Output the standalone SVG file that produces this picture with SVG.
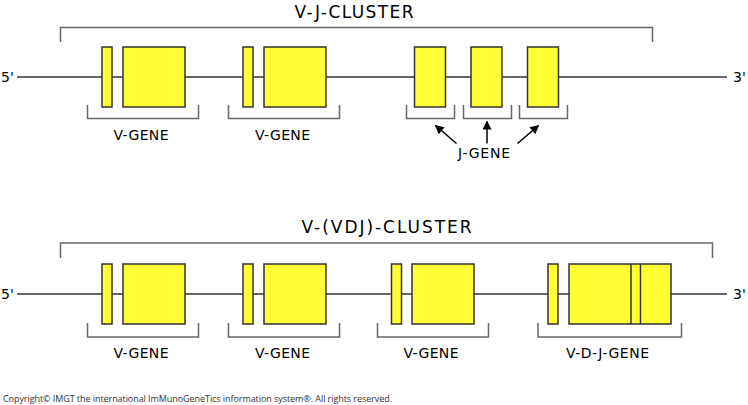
<svg xmlns="http://www.w3.org/2000/svg" width="748" height="405" viewBox="0 0 748 405">
<defs>
<style>
.ln{stroke:#666;stroke-width:2;fill:none}
.br{stroke:#666;stroke-width:1.5;fill:none}
.ex{fill:#ffff33;stroke:#333;stroke-width:1.5}
.t{font-family:"DejaVu Sans",Verdana,sans-serif;fill:#000}
.title{font-size:17px}
.lab{font-size:14px}
.end{font-size:14px}
.ar{stroke:#000;stroke-width:1.5;fill:none}
</style>
<marker id="ah" viewBox="0 0 10 10" refX="9" refY="5" markerWidth="10" markerHeight="9" markerUnits="userSpaceOnUse" orient="auto">
<path d="M0,0 L10,5 L0,10 Z" fill="#000"/>
</marker>
</defs>
<rect width="748" height="405" fill="#fff"/>

<g id="connectors">
<line class="ln" x1="17" y1="77" x2="727" y2="77"/>
<line class="ln" x1="17" y1="294" x2="727" y2="294"/>
<polyline class="br" points="60.5,42 60.5,27.5 652.5,27.5 652.5,42"/>
<polyline class="br" points="60.5,258 60.5,243 712.5,243 712.5,258"/>
<line class="ar" x1="456.5" y1="143.5" x2="435.5" y2="125.5" marker-end="url(#ah)"/>
<line class="ar" x1="487" y1="143.5" x2="487" y2="121.5" marker-end="url(#ah)"/>
<line class="ar" x1="517.5" y1="143.5" x2="538.5" y2="125.5" marker-end="url(#ah)"/>
</g>

<g id="top-title"><text class="t title" x="294.5" y="18" textLength="119" lengthAdjust="spacing">V-J-CLUSTER</text></g>
<g id="top-5"><text class="t end" x="1" y="82">5'</text></g>
<g id="top-3"><text class="t end" x="733" y="82">3'</text></g>

<g id="top-v1">
<rect class="ex" x="102" y="47" width="10" height="60"/>
<rect class="ex" x="123" y="47" width="62" height="60"/>
<polyline class="br" points="87.5,105 87.5,118.5 198.5,118.5 198.5,105"/>
<text class="t lab" x="113.5" y="140" textLength="55" lengthAdjust="spacing">V-GENE</text>
</g>
<g id="top-v2">
<rect class="ex" x="243" y="47" width="10" height="60"/>
<rect class="ex" x="264" y="47" width="62" height="60"/>
<polyline class="br" points="228.5,105 228.5,118.5 339.5,118.5 339.5,105"/>
<text class="t lab" x="255" y="140" textLength="55" lengthAdjust="spacing">V-GENE</text>
</g>
<g id="top-j1">
<rect class="ex" x="414.5" y="47" width="31" height="60"/>
<polyline class="br" points="406.5,105 406.5,118.5 454.5,118.5 454.5,105"/>
</g>
<g id="top-j2">
<rect class="ex" x="471" y="47" width="31" height="60"/>
<polyline class="br" points="463.5,105 463.5,118.5 511.5,118.5 511.5,105"/>
</g>
<g id="top-j3">
<rect class="ex" x="527.5" y="47" width="31" height="60"/>
<polyline class="br" points="519.5,105 519.5,118.5 567.5,118.5 567.5,105"/>
</g>
<g id="top-jlabel"><text class="t lab" x="458" y="158" textLength="52" lengthAdjust="spacing">J-GENE</text></g>

<g id="bot-title"><text class="t title" x="301.5" y="233" textLength="170" lengthAdjust="spacing">V-(VDJ)-CLUSTER</text></g>
<g id="bot-5"><text class="t end" x="1" y="299">5'</text></g>
<g id="bot-3"><text class="t end" x="733" y="299">3'</text></g>

<g id="bot-v1">
<rect class="ex" x="102" y="264" width="10" height="60"/>
<rect class="ex" x="123" y="264" width="62" height="60"/>
<polyline class="br" points="87.5,323 87.5,337 198.5,337 198.5,323"/>
<text class="t lab" x="113.5" y="358" textLength="55" lengthAdjust="spacing">V-GENE</text>
</g>
<g id="bot-v2">
<rect class="ex" x="243" y="264" width="10" height="60"/>
<rect class="ex" x="264" y="264" width="62" height="60"/>
<polyline class="br" points="228.5,323 228.5,337 339.5,337 339.5,323"/>
<text class="t lab" x="255" y="358" textLength="55" lengthAdjust="spacing">V-GENE</text>
</g>
<g id="bot-v3">
<rect class="ex" x="391.5" y="264" width="10" height="60"/>
<rect class="ex" x="412" y="264" width="62" height="60"/>
<polyline class="br" points="377.5,323 377.5,337 488.5,337 488.5,323"/>
<text class="t lab" x="403.5" y="358" textLength="55" lengthAdjust="spacing">V-GENE</text>
</g>
<g id="bot-vdj">
<rect class="ex" x="548" y="264" width="10" height="60"/>
<rect class="ex" x="569" y="264" width="102" height="60"/>
<line stroke="#333" stroke-width="1.5" x1="631" y1="264" x2="631" y2="324"/>
<line stroke="#333" stroke-width="1.5" x1="640.5" y1="264" x2="640.5" y2="324"/>
<polyline class="br" points="538,323 538,337 681.5,337 681.5,323"/>
<text class="t lab" x="566" y="358" textLength="83" lengthAdjust="spacing">V-D-J-GENE</text>
</g>

<g id="copyright"><text x="3" y="402" font-family="'Open Sans',sans-serif" font-size="9" fill="#333" textLength="389" lengthAdjust="spacing">Copyright© IMGT the international ImMunoGeneTics information system®. All rights reserved.</text></g>
</svg>
